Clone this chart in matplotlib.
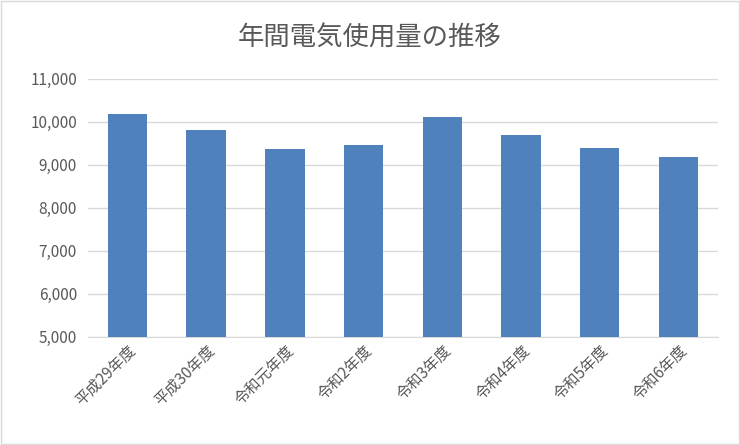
import matplotlib.pyplot as plt
from matplotlib.ticker import FuncFormatter

plt.rcParams['font.family'] = ['Noto Sans CJK JP', 'DejaVu Sans']

years = ['平成29年度', '平成30年度', '令和元年度', '令和2年度',
         '令和3年度', '令和4年度', '令和5年度', '令和6年度']
usage = [10170, 9820, 9360, 9460, 10120, 9700, 9380, 9190]

fig = plt.figure(figsize=(7.4, 4.45), dpi=100)
ax = fig.add_axes([0.119, 0.243, 0.851, 0.58])

ax.bar(range(len(years)), usage, width=0.5, color='#4f81bd', zorder=3)
ax.set_ylim(5000, 11000)
ax.set_xlim(-0.5, len(years) - 0.5)
ax.set_yticks(range(5000, 11001, 1000))
ax.yaxis.set_major_formatter(FuncFormatter(lambda v, p: f'{int(v):,}'))
ax.grid(axis='y', color='#d9d9d9', linewidth=1, zorder=0)
ax.set_xticks(range(len(years)))
ax.set_xticklabels(years, rotation=45, ha='right', rotation_mode='anchor')
ax.tick_params(axis='both', length=0, labelsize=11, colors='#595959')
ax.tick_params(axis='y', pad=8)
for s in ['top', 'right', 'left']:
    ax.spines[s].set_visible(False)
ax.spines['bottom'].set_color('#d9d9d9')

fig.text(0.5, 0.915, '年間電気使用量の推移', ha='center', va='center',
         fontsize=19, color='#595959')
fig.patches.append(plt.Rectangle((0.002, 0.003), 0.996, 0.994, transform=fig.transFigure,
                                 fill=False, edgecolor='#d9d9d9', linewidth=1))

fig.savefig('out.png')
